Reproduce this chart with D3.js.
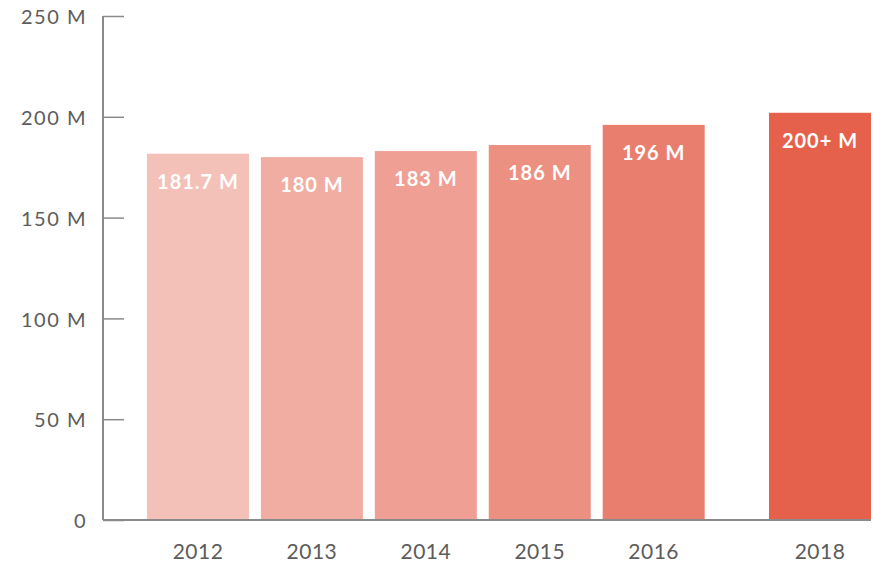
<!DOCTYPE html>
<html>
<head>
<meta charset="utf-8">
<script src="https://cdn.jsdelivr.net/npm/d3@7"></script>
<style>
  body { margin: 0; background: #fff; }
  text { font-family: "Lato", "Open Sans", sans-serif; }
</style>
</head>
<body>
<div id="chart"></div>
<script>
const years = ["2012", "2013", "2014", "2015", "2016", "2018"];
// slot position on the x axis (2017 missing, so 2018 sits after a gap)
const slots = [0, 1, 2, 3, 4, 5.46];
const values = [181.7, 180, 183, 186, 196, 202];
const labels = ["181.7 M", "180 M", "183 M", "186 M", "196 M", "200+ M"];
const colors = ["#f4c1b9", "#f2ada3", "#f09f94", "#ec9182", "#e97e6e", "#e5614b"];
const yTicks = [0, 50, 100, 150, 200, 250];

const width = 873, height = 564;
const margin = {top: 16, right: 2, bottom: 44, left: 103};

const data = years.map((d, i) => ({year: d, slot: slots[i], value: values[i], label: labels[i], color: colors[i]}));

const svg = d3.select("#chart").append("svg")
  .attr("width", width)
  .attr("height", height);

const bw = 102;
const x = d3.scaleLinear()
  .domain([0, 5.46])
  .range([margin.left + 44, width - margin.right - bw]);

const y = d3.scaleLinear()
  .domain([0, 250])
  .range([height - margin.bottom, margin.top]);

// bars
svg.append("g")
  .selectAll("rect")
  .data(data)
  .join("rect")
  .attr("x", d => x(d.slot))
  .attr("y", d => y(d.value))
  .attr("width", bw)
  .attr("height", d => y(0) - y(d.value))
  .attr("fill", d => d.color);

// value labels inside bars
svg.append("g")
  .selectAll("text")
  .data(data)
  .join("text")
  .attr("x", d => x(d.slot) + bw / 2)
  .attr("y", d => y(d.value) + 35)
  .attr("text-anchor", "middle")
  .attr("fill", "#fff")
  .attr("font-size", 20)
  .attr("font-weight", 700)
  .attr("letter-spacing", 1)
  .text(d => d.label);

// y axis
const yAxis = svg.append("g")
  .attr("transform", `translate(${margin.left},0)`)
  .call(d3.axisLeft(y)
    .tickValues(yTicks)
    .tickSize(-21)
    .tickPadding(16)
    .tickFormat(d => d === 0 ? "0" : d + " M"));
yAxis.select(".domain").attr("stroke", "#8a8a8a").attr("stroke-width", 2)
  .attr("d", `M0,${y(250)}V${y(0)}`);
yAxis.selectAll(".tick line").attr("stroke", "#8a8a8a").attr("stroke-width", 1.5);
yAxis.selectAll(".tick text")
  .attr("fill", "#5c5c5c")
  .attr("font-size", 20)
  .attr("letter-spacing", 1.5)
  .attr("dy", "0.38em")
  .style("font-family", "Lato, 'Open Sans', sans-serif");

// baseline
svg.append("line")
  .attr("x1", margin.left)
  .attr("x2", width - margin.right)
  .attr("y1", y(0))
  .attr("y2", y(0))
  .attr("stroke", "#8a8a8a")
  .attr("stroke-width", 2);

// year labels
svg.append("g")
  .selectAll("text")
  .data(data)
  .join("text")
  .attr("x", d => x(d.slot) + bw / 2)
  .attr("y", y(0) + 39)
  .attr("text-anchor", "middle")
  .attr("fill", "#5c5c5c")
  .attr("font-size", 21)
  .attr("letter-spacing", 0.5)
  .text(d => d.year);
</script>
</body>
</html>
